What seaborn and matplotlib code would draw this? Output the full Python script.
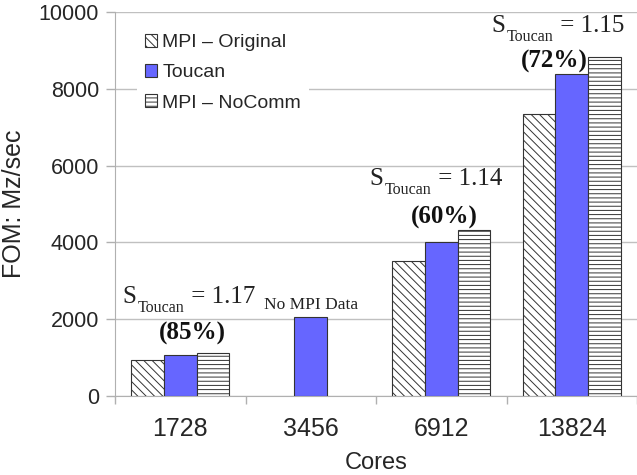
import numpy as np
import pandas as pd
import matplotlib
matplotlib.use('Agg')
import matplotlib.pyplot as plt
import seaborn as sns

# values
cores = ['1728', '3456', '6912', '13824']
series = ['MPI – Original', 'Toucan', 'MPI – NoComm']
mpi_original = [930, np.nan, 3510, 7340]
toucan = [1075, 2070, 4000, 8390]
mpi_nocomm = [1120, np.nan, 4310, 8820]

speedups = ['1.17', None, '1.14', '1.15']
efficiency = ['(85%)', None, '(60%)', '(72%)']

sns.set_style('white')
plt.rcParams['font.family'] = ['Liberation Sans', 'DejaVu Sans']
plt.rcParams['hatch.linewidth'] = 0.7

df = pd.DataFrame({
    'Cores': cores * 3,
    'Series': [s for s in series for _ in cores],
    'FOM': mpi_original + toucan + mpi_nocomm,
}).dropna()

fig = plt.figure(figsize=(6.37, 4.75), dpi=100)
ax = fig.add_axes([115 / 637, 79 / 475, 522 / 637, 384 / 475])

sns.barplot(data=df, x='Cores', y='FOM', hue='Series', order=cores,
            hue_order=series, palette=['white', '#6666ff', 'white'],
            saturation=1, width=0.75, edgecolor='#333333', linewidth=0.8,
            errorbar=None, ax=ax, zorder=3)

hatches = ['\\\\\\\\', '', '----']
for cont, h in zip(ax.containers, hatches):
    for bar in cont:
        bar.set_hatch(h)

ax.set_ylim(0, 10000)
ax.set_xlim(-0.5, 3.5)
ax.set_yticks(range(0, 10001, 2000))
ax.yaxis.grid(True, color='#c0c0c0', linewidth=1)
ax.set_axisbelow(True)

for side in ['top', 'right']:
    ax.spines[side].set_visible(False)
for side in ['left', 'bottom']:
    ax.spines[side].set_color('#b0b0b0')

ax.tick_params(axis='y', length=6.5, width=1, color='#b0b0b0', pad=5,
               labelsize=15.5, left=True)
ax.tick_params(axis='x', which='major', length=0, pad=15, labelsize=18)
ax.set_xticks([-0.5, 0.5, 1.5, 2.5, 3.5], minor=True)
ax.tick_params(axis='x', which='minor', length=6, width=1, color='#b0b0b0',
               bottom=True)

ax.set_ylabel('FOM: Mz/sec', fontsize=18, labelpad=9)
ax.set_xlabel('Cores', fontsize=17, labelpad=8)

ax.legend_.remove()
ax.legend(handles=ax.containers, labels=series, loc='upper left',
          bbox_to_anchor=(0.042, 0.963), borderaxespad=0, fontsize=14,
          frameon=True, facecolor='white', edgecolor='none', framealpha=1,
          fancybox=False, handlelength=0.65, handleheight=0.65,
          handletextpad=0.25, labelspacing=0.66)

serif = 'Liberation Serif'
s_pos = [(-0.446, 2420), None, (1.446, 5495), (2.381, 9480)]
e_pos = [(0.09, 1640), None, (2.02, 4660), (2.87, 8700)]
for sp, ef, sxy, exy in zip(speedups, efficiency, s_pos, e_pos):
    if sp is None:
        continue
    s = ax.text(sxy[0], sxy[1], 'S', ha='left', va='baseline', fontsize=18,
                family=serif, color='#222222', zorder=5)
    sub = ax.annotate('Toucan', xy=(1, 0), xycoords=s, xytext=(1.5, -6),
                      textcoords='offset points', ha='left', va='bottom',
                      fontsize=11.5, family=serif, color='#222222', zorder=5)
    ax.annotate(' = ' + sp, xy=(1, 0), xycoords=(sub, s), ha='left',
                va='bottom', fontsize=18, family=serif, color='#222222',
                zorder=5)
    ax.text(exy[0], exy[1], ef, ha='center', va='center', fontsize=18,
            family=serif, fontweight='bold', color='#111111', zorder=5)

ax.text(1.0, 2270, 'No MPI Data', ha='center', va='baseline',
        fontsize=12.5, family=serif, color='#222222', zorder=5)

fig.savefig('out.png', dpi=100)
